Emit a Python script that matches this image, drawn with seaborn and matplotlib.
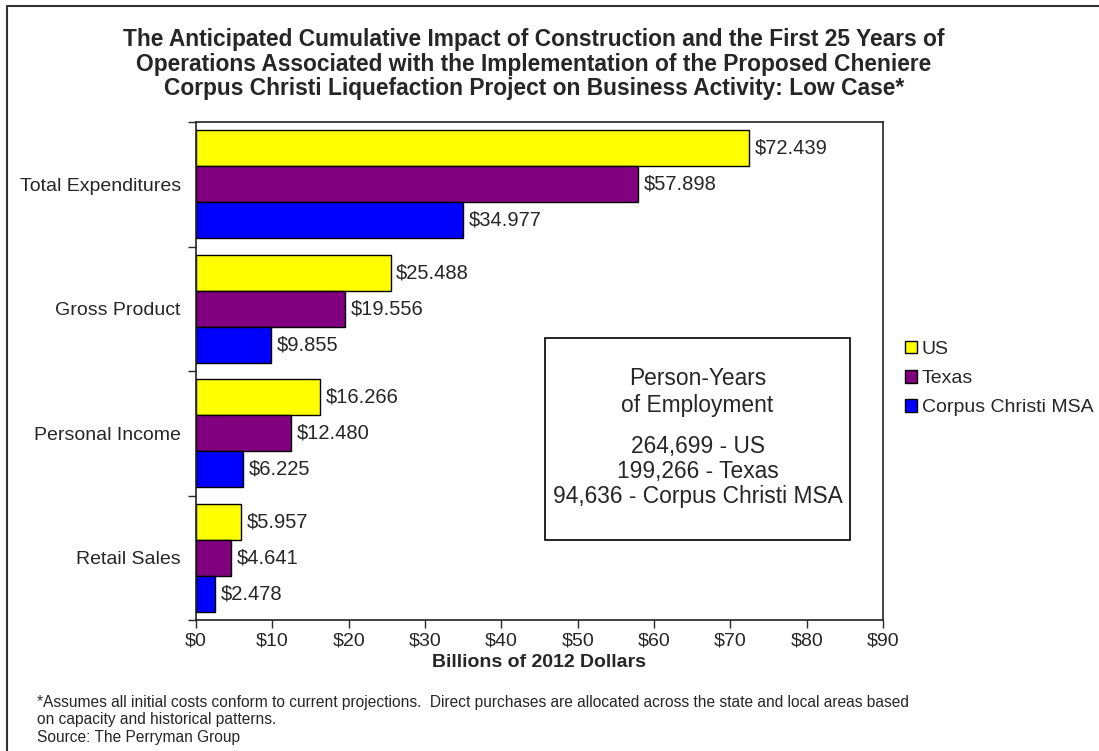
import pandas as pd
import matplotlib
matplotlib.use("Agg")
import matplotlib.pyplot as plt
import seaborn as sns
from matplotlib.patches import Rectangle

categories = ["Total Expenditures", "Gross Product", "Personal Income", "Retail Sales"]
regions = ["US", "Texas", "Corpus Christi MSA"]
us = [72.439, 25.488, 16.266, 5.957]
texas = [57.898, 19.556, 12.480, 4.641]
corpus = [34.977, 9.855, 6.225, 2.478]
colors = ["#FFFF00", "#800080", "#0000FF"]
xticks = list(range(0, 100, 10))

employment = ["264,699 - US", "199,266 - Texas", "94,636 - Corpus Christi MSA"]

rows = []
for reg, vals in zip(regions, [us, texas, corpus]):
    for cat, v in zip(categories, vals):
        rows.append({"category": cat, "region": reg, "value": v})
df = pd.DataFrame(rows)

sns.set_style("white")
plt.rcParams["font.family"] = ["Liberation Sans", "DejaVu Sans"]

fig = plt.figure(figsize=(10.99, 7.51), dpi=100)
ax = fig.add_axes([0.1783, 0.1744, 0.6252, 0.6631])

sns.barplot(data=df, y="category", x="value", hue="region", order=categories,
            hue_order=regions, palette=colors, orient="h", width=0.87,
            edgecolor="black", linewidth=1, saturation=1, ax=ax)

for cont in ax.containers:
    ax.bar_label(cont, labels=["${:.3f}".format(v) for v in cont.datavalues],
                 padding=4, fontsize=14.5)

ax.set_xlim(0, 90)
ax.set_ylim(3.5, -0.5)
ax.set_xticks(xticks)
ax.set_xticklabels(["${}".format(t) for t in xticks], fontsize=14)
ax.set_yticks(range(len(categories)))
ax.set_yticklabels(categories, fontsize=14)
ax.tick_params(axis="y", length=0, pad=11)
ax.set_yticks([-0.5, 0.5, 1.5, 2.5, 3.5], minor=True)
ax.tick_params(axis="y", which="minor", length=6, width=1, direction="out", left=True)
ax.tick_params(axis="x", length=6, width=1, direction="out", bottom=True, pad=3)
ax.set_xlabel("Billions of 2012 Dollars", fontsize=14, fontweight="bold", labelpad=3)
ax.set_ylabel("")
for s in ax.spines.values():
    s.set_color("#222222")
    s.set_linewidth(1.2)

handles, labels = ax.get_legend_handles_labels()
ax.legend(handles, labels, loc="upper left", bbox_to_anchor=(1.032, 0.56),
          frameon=False, fontsize=14, handlelength=0.6, handleheight=0.6,
          handletextpad=0.25, labelspacing=0.62, borderaxespad=0, borderpad=0)

ax.text(0.73, 0.458, "Person-Years\nof Employment", transform=ax.transAxes,
        ha="center", va="center", fontsize=16.4, linespacing=1.18)
ax.text(0.73, 0.298, "\n".join(employment), transform=ax.transAxes, ha="center",
        va="center", fontsize=16.4, linespacing=1.13)
ax.add_patch(Rectangle((0.508, 0.161), 0.444, 0.406, transform=ax.transAxes,
                       fill=False, edgecolor="black", linewidth=1.2))

fig.text(0.486, 0.963, "The Anticipated Cumulative Impact of Construction and the First 25 Years of\n"
         "Operations Associated with the Implementation of the Proposed Cheniere\n"
         "Corpus Christi Liquefaction Project on Business Activity: Low Case*",
         ha="center", va="top", fontsize=16.4, fontweight="bold", linespacing=1.1)

fig.text(0.034, 0.075, "*Assumes all initial costs conform to current projections.  Direct purchases are allocated across the state and local areas based\n"
         "on capacity and historical patterns.\n"
         "Source: The Perryman Group", ha="left", va="top", fontsize=11.2, linespacing=1.23)

fig.add_artist(plt.Line2D([0.0064, 1.0], [0.992, 0.992], color="#333333", linewidth=1.5))
fig.add_artist(plt.Line2D([0.0064, 0.0064], [0.0, 0.992], color="#333333", linewidth=1.5))

fig.savefig("out.png", dpi=100)
